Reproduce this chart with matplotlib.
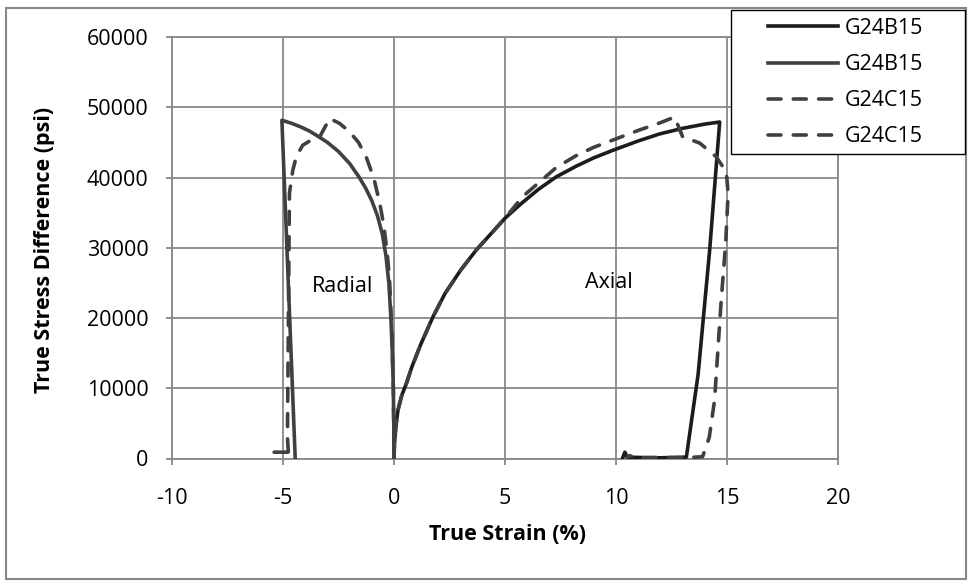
import matplotlib
matplotlib.use("Agg")
import matplotlib.pyplot as plt
from matplotlib.patches import Rectangle

plt.rcParams['font.family'] = ['Open Sans', 'DejaVu Sans']
plt.rcParams['axes.unicode_minus'] = False

# axial, specimen G24B15 (solid, black)
axial_b_x = [0.0, 0.02, 0.08, 0.18, 0.35, 0.56, 0.8, 1.2, 1.76, 2.3, 3.0, 3.71, 4.4,
             5.0, 5.7, 6.5, 7.31, 8.2, 9.0, 9.88, 11.0, 11.96, 13.0, 14.0, 14.67,
             14.22, 13.7, 13.17, 12.0, 11.0, 10.5, 10.4, 10.35, 10.3]
axial_b_y = [0, 2000, 4500, 6900, 9000, 10700, 13000, 16200, 20200, 23500, 26800,
             29700, 32100, 34200, 36200, 38300, 40100, 41600, 42800, 43900, 45200,
             46200, 47000, 47600, 47900, 29700, 12000, 200, 100, 150, 200, 900, 500,
             100]

# radial, specimen G24B15 (solid, dark grey)
radial_b_x = [0.0, -0.01, -0.03, -0.08, -0.14, -0.23, -0.36, -0.53, -0.75, -1.0,
              -1.28, -1.58, -2.0, -2.5, -3.0, -3.39, -3.8, -4.2, -4.6, -5.05, -4.45]
radial_b_y = [0, 5000, 10000, 15400, 20000, 24900, 28800, 32000, 34600, 36700,
              38500, 40100, 42000, 43700, 45000, 45800, 46600, 47200, 47700, 48150, 0]

# axial, specimen G24C15 (dashed)
axial_c_x = [0.0, 0.02, 0.08, 0.18, 0.35, 0.56, 0.8, 1.2, 1.76, 2.3, 3.0, 3.71, 4.4,
             5.0, 5.8, 6.5, 7.3, 8.2, 9.0, 10.0, 11.0, 12.0, 12.64, 13.0, 13.77,
             14.5, 14.97, 15.05, 14.94, 14.74, 14.44, 14.2, 13.9, 13.0, 12.0, 11.0,
             10.6, 10.5]
axial_c_y = [0, 2000, 4500, 6900, 9000, 10700, 13000, 16200, 20200, 23500, 26800,
             29700, 32100, 34200, 37300, 39200, 41400, 43100, 44300, 45500, 46700,
             47800, 48600, 45800, 44900, 43000, 40800, 37700, 30650, 22550, 8300,
             3000, 250, 100, 150, 100, 400, 200]

# radial, specimen G24C15 (dashed), from the low-stress tail to the origin
radial_c_x = [-5.4, -4.6, -4.75, -4.8, -4.78, -4.71, -4.56, -4.4, -4.11, -3.8, -3.36,
              -2.9, -2.45, -2.0, -1.6, -1.25, -0.9, -0.64, -0.45, -0.3, -0.2, -0.1,
              -0.03, 0.0]
radial_c_y = [900, 900, 500, 3000, 10700, 37760, 41000, 43000, 44600, 45200, 45700,
              48400, 47700, 46500, 45000, 42900, 39800, 36300, 33000, 29000, 25500,
              18000, 10000, 0]

legend_labels = ['G24B15', 'G24B15', 'G24C15', 'G24C15']

grid_c = '#888888'
fs = 15.5
lw = 2.6

fig = plt.figure(figsize=(9.69, 5.81), dpi=100)
ax = fig.add_axes([172 / 969, 1 - 458.5 / 581, 666 / 969, 421.5 / 581])

l1, = ax.plot(axial_b_x, axial_b_y, color='#1c1c1c', lw=lw, zorder=3)
l2, = ax.plot(radial_b_x, radial_b_y, color='#404040', lw=lw, zorder=3)
l3, = ax.plot(axial_c_x, axial_c_y, color='#404040', lw=lw, zorder=3,
              dashes=(3.6, 3.4), dash_capstyle='round')
l4, = ax.plot(radial_c_x, radial_c_y, color='#404040', lw=lw, zorder=3,
              dashes=(3.6, 3.4), dash_capstyle='round')

ax.set_xlim(-10, 20)
ax.set_ylim(0, 60000)
ax.set_xticks(range(-10, 21, 5))
ax.set_yticks(range(0, 60001, 10000))
ax.grid(True, color=grid_c, lw=1.3, zorder=0)
ax.set_axisbelow(True)
for s in ax.spines.values():
    s.set_color(grid_c)
    s.set_linewidth(1.3)
ax.tick_params(axis='both', colors=grid_c, labelcolor='black', labelsize=fs,
               length=4, width=1.3)
ax.tick_params(axis='y', pad=13)
ax.tick_params(axis='x', pad=17)

ax.text(-2.3, 24500, 'Radial', fontsize=fs, ha='center', va='center')
ax.text(9.7, 25000, 'Axial', fontsize=fs, ha='center', va='center')

fig.text(45 / 969, 1 - 250 / 581, 'True Stress Difference (psi)', rotation=90,
         fontsize=fs, fontweight='bold', ha='center', va='center')
fig.text(507 / 969, 1 - 535 / 581, 'True Strain (%)', fontsize=fs,
         fontweight='bold', ha='center', va='center')

# outer chart border
fig.patches.append(Rectangle((5.5 / 969, 1 - 579 / 581), 960 / 969, 571 / 581,
                             transform=fig.transFigure, fill=False,
                             edgecolor=grid_c, lw=1.5))
# legend box
fig.patches.append(Rectangle((731 / 969, 1 - 154 / 581), 234 / 969, 144 / 581,
                             transform=fig.transFigure, facecolor='white',
                             edgecolor='black', lw=1.0, zorder=4))
fig.legend([l1, l2, l3, l4], legend_labels, loc='upper left',
           bbox_to_anchor=(768 / 969, 1 - 18 / 581), bbox_transform=fig.transFigure,
           frameon=False, fontsize=fs, borderpad=0, borderaxespad=0,
           handlelength=3.25, handletextpad=0.3, labelspacing=0.7)

fig.savefig('out.png', dpi=100)
